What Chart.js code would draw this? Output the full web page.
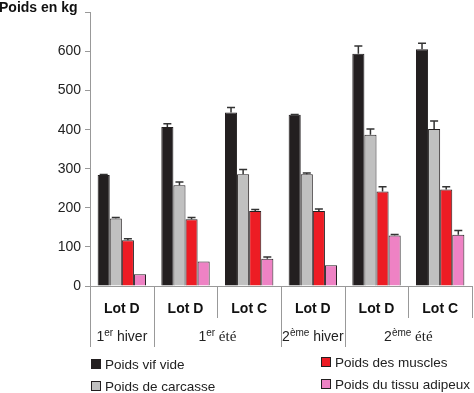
<!DOCTYPE html>
<html>
<head>
<meta charset="utf-8">
<script src="https://cdn.jsdelivr.net/npm/chart.js@4.4.1/dist/chart.umd.min.js"></script>
<style>
  html, body { margin: 0; padding: 0; background: #fff; }
  #wrap { position: relative; width: 474px; height: 393px; overflow: hidden; }
  #title { position: absolute; left: -1px; top: -1px; font: bold 14px "Liberation Sans", Arial, sans-serif; color: #111; }
  .leg { position: absolute; font: 13.5px "Liberation Sans", Arial, sans-serif; color: #222; white-space: nowrap; }
  .leg span { display: inline-block; width: 8px; height: 8px; border: 1px solid #231f20; margin-right: 4px; vertical-align: 0px; }
</style>
</head>
<body>
<div id="wrap">
  <canvas id="graph" width="474" height="393"></canvas>
  <div id="title">Poids en kg</div>
  <div class="leg" style="left:91px; top:357px"><span style="background:#231f20"></span>Poids vif vide</div>
  <div class="leg" style="left:91px; top:379px"><span style="background:#c0c0c0"></span>Poids de carcasse</div>
  <div class="leg" style="left:321px; top:355px"><span style="background:#ed1c24"></span>Poids des muscles</div>
  <div class="leg" style="left:321px; top:377px"><span style="background:#ee82c4"></span>Poids du tissu adipeux</div>
</div>
<script>
const lots = ['Lot D', 'Lot D', 'Lot C', 'Lot D', 'Lot D', 'Lot C']
// season rows under the lots: [number, superscript, word, first lot, last lot]
const seasons = [
  ['1', 'er', 'hiver', 0, 0],
  ['1', 'er', 'été', 1, 2],
  ['2', 'ème', 'hiver', 3, 3],
  ['2', 'ème', 'été', 4, 5]
]

const vifVide = [284, 407, 444, 438, 594, 606]
const vifVideErr = [1, 8, 13, 1, 20, 15]
const carcasse = [173, 258, 286, 286, 387, 402]
const carcasseErr = [2, 8, 12, 3, 15, 20]
const muscles = [117, 171, 192, 192, 242, 247]
const musclesErr = [4, 4, 4, 5, 12, 7]
const adipeux = [30, 63, 70, 53, 129, 131]
const adipeuxErr = [0, 0, 4, 0, 3, 11]

const yTicks = [0, 100, 200, 300, 400, 500, 600]

var errors = [vifVideErr, carcasseErr, musclesErr, adipeuxErr]

const errorBars = {
  id: 'errorBars',
  afterDatasetsDraw(chart) {
    var ctx = chart.ctx
    var y = chart.scales.y
    ctx.save()
    ctx.strokeStyle = '#333'
    ctx.lineWidth = 1.5
    chart.data.datasets.forEach(function(ds, d) {
      var meta = chart.getDatasetMeta(d)
      meta.data.forEach(function(bar, i) {
        var e = errors[d][i]
        if (!e) return
        var top = y.getPixelForValue(ds.data[i] + e)
        ctx.beginPath()
        ctx.moveTo(bar.x, bar.y)
        ctx.lineTo(bar.x, top)
        ctx.moveTo(bar.x - 4, top)
        ctx.lineTo(bar.x + 4, top)
        ctx.stroke()
      })
    })
    ctx.restore()
  }
}

const lowerAxis = {
  id: 'lowerAxis',
  afterDraw(chart) {
    var ctx = chart.ctx
    var x = chart.scales.x
    var area = chart.chartArea
    var half = (x.getPixelForValue(1) - x.getPixelForValue(0)) / 2
    ctx.save()
    ctx.strokeStyle = '#999'
    ctx.lineWidth = 1
    // separators between lots (short) and between seasons (long)
    var seasonEdges = [0]
    seasons.forEach(function(s) { seasonEdges.push(s[4] + 1) })
    for (var i = 0; i <= lots.length; i++) {
      var px = Math.round(x.getPixelForValue(i) - half) + 0.5
      var long = seasonEdges.indexOf(i) >= 0 && i < lots.length
      ctx.beginPath()
      ctx.moveTo(px, area.bottom)
      ctx.lineTo(px, long ? area.bottom + 61 : area.bottom + 32)
      ctx.stroke()
    }
    // season labels
    ctx.fillStyle = '#222'
    ctx.textBaseline = 'alphabetic'
    var base = area.bottom + 55
    seasons.forEach(function(s) {
      var cx = (x.getPixelForValue(s[3]) + x.getPixelForValue(s[4])) / 2
      var serif = s[2] == 'été'
      var big = '14px "Liberation Sans", Arial, sans-serif'
      var small = '10px "Liberation Sans", Arial, sans-serif'
      var word = serif ? '15px "Liberation Serif", "Times New Roman", serif' : big
      ctx.font = big; var w1 = ctx.measureText(s[0]).width
      ctx.font = small; var w2 = ctx.measureText(s[1]).width
      ctx.font = word; var w3 = ctx.measureText(' ' + s[2]).width
      var left = cx - (w1 + w2 + w3) / 2
      ctx.font = big; ctx.fillText(s[0], left, base)
      ctx.font = small; ctx.fillText(s[1], left + w1, base - 5)
      ctx.font = word; ctx.fillText(' ' + s[2], left + w1 + w2, base)
    })
    ctx.restore()
  }
}

const config = {
  type: 'bar',
  data: {
    labels: lots,
    datasets: [
      { label: 'Poids vif vide', data: vifVide, backgroundColor: '#231f20' },
      { label: 'Poids de carcasse', data: carcasse, backgroundColor: '#c0c0c0' },
      { label: 'Poids des muscles', data: muscles, backgroundColor: '#ed1c24' },
      { label: 'Poids du tissu adipeux', data: adipeux, backgroundColor: '#ee82c4' }
    ]
  },
  options: {
    responsive: false,
    animation: false,
    layout: { padding: { left: 0, right: 2, top: 6, bottom: 0 } },
    datasets: {
      bar: {
        borderColor: '#231f20',
        borderWidth: 1,
        borderSkipped: 'bottom',
        barPercentage: 1,
        categoryPercentage: 0.76
      }
    },
    plugins: {
      legend: { display: false },
      tooltip: { enabled: false }
    },
    scales: {
      x: {
        grid: { display: false },
        border: { display: true, color: '#999', width: 1 },
        ticks: {
          color: '#111',
          padding: 7,
          font: { family: '"Liberation Sans", Arial, sans-serif', size: 14, weight: 'bold' }
        },
        afterFit: function(s) { s.height = 107 }
      },
      y: {
        min: 0,
        max: 700,
        grid: { drawOnChartArea: false, color: '#999', tickLength: 5 },
        border: { display: true, color: '#999', width: 1 },
        ticks: {
          stepSize: 100,
          color: '#222',
          padding: 4,
          font: { family: '"Liberation Sans", Arial, sans-serif', size: 14 },
          callback: function(v) { return yTicks.indexOf(v) >= 0 ? v : '' }
        },
        afterFit: function(s) { s.width = 90 }
      }
    }
  },
  plugins: [errorBars, lowerAxis]
}

new Chart(document.getElementById('graph'), config)
</script>
</body>
</html>
